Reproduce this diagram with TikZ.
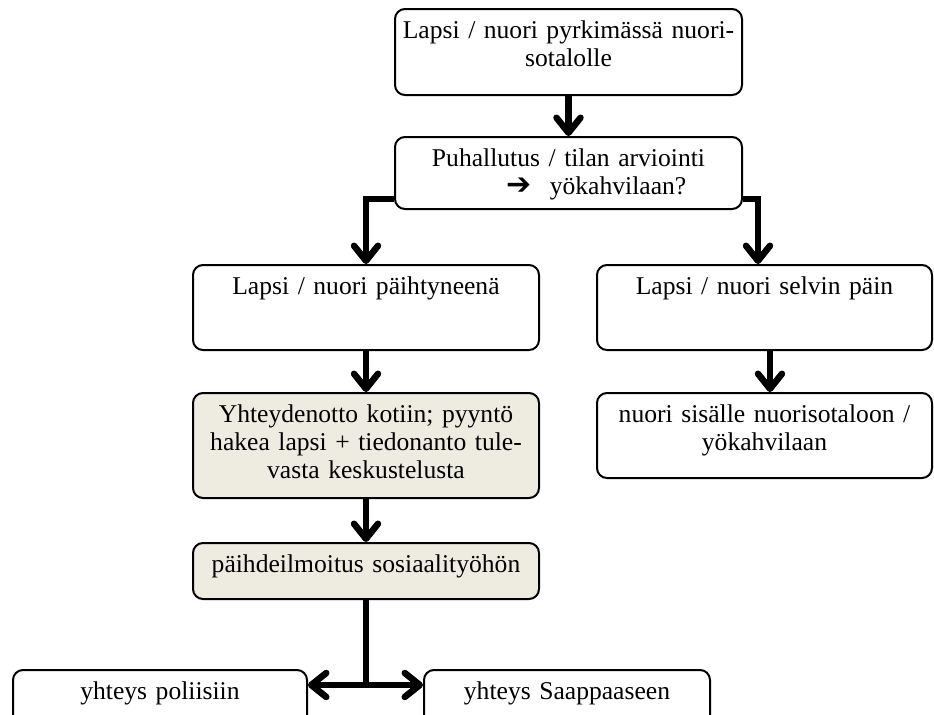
\documentclass[tikz,border=0pt]{standalone}
\usepackage{fontspec}
\setmainfont{Liberation Serif}
\newfontfamily\symfont{DejaVu Sans}
\usepackage{xcolor}
\usepackage{tikz}
\usetikzlibrary{arrows.meta}

\definecolor{tanbg}{HTML}{EEECE1}

\tikzset{
	chevron/.tip={Straight Barb[length=7.5pt, width=12pt, line cap=round, line join=round]},
	box/.style={draw, line width=1pt, rounded corners=5pt, anchor=north,
		align=center, inner xsep=3pt, inner ysep=5.5pt,
		text height=9pt, text depth=#1, font=\fontsize{12.8}{14}\selectfont},
	tanbox/.style={box=#1, fill=tanbg},
	flow/.style={line width=3.25pt, -chevron},
	flowboth/.style={line width=3.25pt, chevron-chevron}
}

\begin{document}
\begin{tikzpicture}[x=0.5pt, y=-0.5pt]
	\clip (0,0) rectangle (934,714);

	\node[box=23pt, text width=167.5pt] (pyrkii) at (568.5,8)
		{Lapsi / nuori pyrkimässä nuori-\\sotalolle};
	\node[box=16pt, text width=167.5pt] (puhallus) at (568.5,136)
		{Puhallutus / tilan arviointi\\
		\hspace*{28pt}{\symfont\fontsize{15}{14}\selectfont ➔}\hspace{9pt}yökahvilaan?};
	\node[box=22.5pt, text width=167pt] (humala) at (366,264)
		{Lapsi / nuori päihtyneenä};
	\node[box=22.5pt, text width=161.5pt] (selva) at (764.5,264)
		{Lapsi / nuori selvin päin};
	\node[tanbox=32.5pt, text width=167pt] (koti) at (366,392)
		{Yhteydenotto kotiin; pyyntö\\hakea lapsi + tiedonanto tule-\\vasta keskustelusta};
	\node[tanbox=8pt, text width=167pt] (ilmoitus) at (366,542)
		{päihdeilmoitus sosiaalityöhön};
	\node[box=22.5pt, text width=161.5pt] (sisalle) at (764.5,392)
		{nuori sisälle nuorisotaloon /\\yökahvilaan};
	\node[box=8pt, text width=141pt] (poliisi) at (160,669)
		{yhteys poliisiin};
	\node[box=8pt, text width=137pt] (saapas) at (567,669)
		{yhteys Saappaaseen};

	\draw[flow] (pyrkii) -- (puhallus);
	\draw[flow] ([yshift=5.5pt]puhallus.south west) -| (humala.north);
	\draw[flow] ([yshift=5.5pt]puhallus.south east) -| ([xshift=-3.25pt]selva.north);
	\draw[flow] (humala) -- (koti);
	\draw[flow] (koti) -- (ilmoitus);
	\draw[flow] ([xshift=2.75pt]selva.south) -- ([xshift=2.75pt]sisalle.north);

	\coordinate (haara) at (366,685);
	\draw[line width=3.25pt] (ilmoitus.south) -- (haara);
	\draw[flowboth] (poliisi.east |- haara) -- (saapas.west |- haara);
\end{tikzpicture}
\end{document}
